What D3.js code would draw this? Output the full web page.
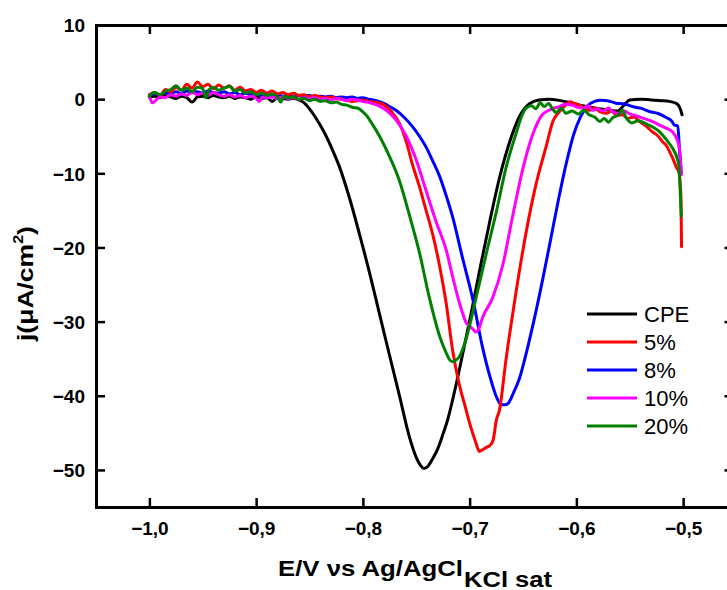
<!DOCTYPE html>
<html><head><meta charset="utf-8">
<script src="https://cdn.jsdelivr.net/npm/d3@7"></script>
<style>body{margin:0;background:#fff}svg{display:block;background:#fff}</style>
</head><body><svg id="chart" width="727" height="590"></svg>
<script>
const xTicks = [-1.0, -0.9, -0.8, -0.7, -0.6, -0.5];
const yTicks = [10, 0, -10, -20, -30, -40, -50];
const seriesNames = ["CPE", "5%", "8%", "10%", "20%"];
const seriesColors = ["#000000", "#ff0000", "#0000ff", "#ff00ff", "#008000"];

const cpe = [[-1.000,0.3],[-0.995,0.4],[-0.990,0.2],[-0.985,0.5],[-0.980,0.3],[-0.975,0.1],[-0.970,0.4],[-0.965,0.2],[-0.960,-0.4],[-0.955,0.3],[-0.950,0.4],[-0.945,0.2],[-0.940,0.5],[-0.935,0.3],[-0.930,0.2],[-0.925,0.4],[-0.920,0.1],[-0.915,0.3],[-0.910,0.2],[-0.905,0.0],[-0.900,0.3],[-0.895,0.1],[-0.890,0.2],[-0.885,-0.3],[-0.880,0.2],[-0.875,0.1],[-0.870,0.0],[-0.865,0.1],[-0.860,-0.1],[-0.855,-0.5],[-0.847,-1.9],[-0.840,-3.5],[-0.834,-5.1],[-0.828,-7.0],[-0.822,-9.1],[-0.8126,-13.3],[-0.8032,-18.2],[-0.7938,-23.4],[-0.7844,-29.0],[-0.7751,-34.5],[-0.7657,-40.0],[-0.7563,-45.6],[-0.750,-48.3],[-0.746,-49.4],[-0.743,-49.8],[-0.739,-49.5],[-0.735,-48.6],[-0.730,-47.2],[-0.725,-45.2],[-0.7205,-43.2],[-0.716,-40.6],[-0.7067,-34.5],[-0.6982,-28.6],[-0.6898,-22.5],[-0.6813,-16.6],[-0.672,-10.6],[-0.6626,-5.8],[-0.6532,-2.3],[-0.6439,-0.6],[-0.635,-0.1],[-0.625,0.0],[-0.615,-0.2],[-0.604,-0.5],[-0.594,-0.9],[-0.583,-1.2],[-0.569,-1.5],[-0.561,-1.6],[-0.556,-0.9],[-0.550,-0.1],[-0.540,0.0],[-0.530,-0.1],[-0.520,-0.2],[-0.513,-0.3],[-0.506,-0.6],[-0.503,-1.2],[-0.501,-2.1]];

const pct5 = [[-1.000,0.6],[-0.995,0.9],[-0.990,0.5],[-0.985,1.3],[-0.980,1.0],[-0.975,1.6],[-0.970,1.2],[-0.965,2.0],[-0.960,1.5],[-0.955,2.3],[-0.950,1.7],[-0.945,2.0],[-0.940,1.4],[-0.935,1.9],[-0.930,1.5],[-0.925,1.8],[-0.920,1.2],[-0.915,1.6],[-0.910,1.1],[-0.905,1.3],[-0.900,0.9],[-0.895,1.2],[-0.890,0.8],[-0.885,1.1],[-0.880,0.7],[-0.875,0.9],[-0.870,0.6],[-0.865,0.8],[-0.860,0.5],[-0.855,0.6],[-0.850,0.3],[-0.845,0.5],[-0.840,0.3],[-0.835,0.2],[-0.830,0.3],[-0.825,0.1],[-0.820,0.0],[-0.815,-0.2],[-0.810,-0.3],[-0.805,-0.2],[-0.800,-0.1],[-0.795,-0.3],[-0.790,-0.4],[-0.784,-0.55],[-0.779,-0.9],[-0.772,-1.9],[-0.766,-3.2],[-0.759,-5.9],[-0.754,-8.6],[-0.747,-11.8],[-0.741,-14.9],[-0.735,-18.0],[-0.728,-22.6],[-0.722,-27.5],[-0.716,-33.8],[-0.710,-38.3],[-0.705,-41.0],[-0.700,-43.7],[-0.694,-46.4],[-0.691,-47.5],[-0.688,-47.3],[-0.685,-47.0],[-0.681,-46.7],[-0.678,-46.0],[-0.675,-43.3],[-0.672,-41.9],[-0.666,-35.2],[-0.660,-29.3],[-0.6565,-26.0],[-0.647,-17.9],[-0.638,-11.6],[-0.628,-6.2],[-0.622,-3.0],[-0.616,-1.7],[-0.610,-0.8],[-0.606,-0.35],[-0.602,-0.6],[-0.597,-0.8],[-0.592,-1.3],[-0.588,-1.5],[-0.583,-1.2],[-0.578,-1.7],[-0.572,-1.9],[-0.567,-1.6],[-0.562,-2.2],[-0.557,-2.1],[-0.552,-2.6],[-0.546,-2.4],[-0.541,-3.0],[-0.535,-3.6],[-0.529,-4.4],[-0.524,-4.9],[-0.519,-5.8],[-0.516,-6.2],[-0.513,-7.0],[-0.510,-7.9],[-0.506,-9.3],[-0.504,-9.8],[-0.503,-10.9],[-0.502,-13.6],[-0.5015,-19.9]];

const pct8 = [[-1.000,0.5],[-0.995,0.7],[-0.990,0.6],[-0.985,0.9],[-0.980,0.8],[-0.975,1.0],[-0.970,0.7],[-0.965,1.1],[-0.960,0.9],[-0.955,1.0],[-0.950,0.8],[-0.945,1.1],[-0.940,0.9],[-0.935,0.8],[-0.930,1.0],[-0.925,0.7],[-0.920,0.9],[-0.915,0.6],[-0.910,0.8],[-0.905,0.6],[-0.900,0.7],[-0.895,0.5],[-0.890,0.6],[-0.885,0.4],[-0.880,0.6],[-0.875,0.4],[-0.870,0.5],[-0.865,0.3],[-0.860,0.5],[-0.855,0.4],[-0.850,0.5],[-0.845,0.3],[-0.840,0.4],[-0.835,0.3],[-0.830,0.4],[-0.825,0.2],[-0.820,0.3],[-0.815,0.2],[-0.810,0.3],[-0.805,0.1],[-0.800,0.2],[-0.795,0.0],[-0.790,-0.1],[-0.785,-0.3],[-0.780,-0.6],[-0.775,-1.0],[-0.769,-1.5],[-0.761,-2.5],[-0.7535,-3.7],[-0.747,-5.0],[-0.741,-6.4],[-0.735,-8.2],[-0.728,-10.45],[-0.722,-13.0],[-0.716,-15.85],[-0.707,-21.2],[-0.697,-27.0],[-0.688,-33.4],[-0.681,-37.4],[-0.675,-40.1],[-0.6705,-41.2],[-0.667,-41.2],[-0.6645,-41.1],[-0.6589,-39.6],[-0.6532,-37.6],[-0.6467,-34.1],[-0.6392,-29.5],[-0.6317,-24.4],[-0.6242,-19.0],[-0.6167,-13.5],[-0.6092,-8.5],[-0.6026,-4.8],[-0.5961,-2.4],[-0.5895,-0.9],[-0.5829,-0.3],[-0.577,-0.15],[-0.571,-0.2],[-0.563,-0.55],[-0.555,-0.65],[-0.5475,-1.0],[-0.539,-1.25],[-0.531,-1.7],[-0.524,-1.9],[-0.5155,-2.5],[-0.511,-2.9],[-0.508,-3.5],[-0.505,-3.6],[-0.5033,-7.1],[-0.5017,-10.0]];

const pct10 = [[-1.000,0.4],[-0.997,-0.5],[-0.993,0.0],[-0.990,0.3],[-0.985,0.2],[-0.980,0.6],[-0.975,0.4],[-0.970,0.7],[-0.965,0.5],[-0.960,0.9],[-0.955,0.6],[-0.950,0.8],[-0.945,0.5],[-0.940,0.9],[-0.935,0.6],[-0.930,0.4],[-0.925,0.6],[-0.920,0.3],[-0.915,0.5],[-0.910,0.2],[-0.905,0.4],[-0.900,0.1],[-0.897,-0.3],[-0.894,0.3],[-0.890,0.2],[-0.885,0.3],[-0.880,0.1],[-0.875,0.3],[-0.870,0.1],[-0.865,0.2],[-0.860,0.0],[-0.855,0.2],[-0.850,0.1],[-0.845,0.2],[-0.840,0.0],[-0.835,0.1],[-0.830,-0.1],[-0.825,0.1],[-0.820,0.0],[-0.815,-0.2],[-0.810,0.0],[-0.806,-0.1],[-0.800,-0.3],[-0.796,-0.4],[-0.791,-0.6],[-0.785,-0.9],[-0.778,-1.5],[-0.769,-2.8],[-0.759,-5.1],[-0.750,-8.2],[-0.741,-12.25],[-0.731,-16.7],[-0.722,-20.3],[-0.716,-23.9],[-0.7095,-27.5],[-0.703,-30.2],[-0.700,-30.6],[-0.697,-31.0],[-0.694,-31.4],[-0.691,-30.8],[-0.688,-29.5],[-0.6785,-26.8],[-0.669,-22.4],[-0.660,-16.0],[-0.650,-9.3],[-0.641,-4.8],[-0.632,-2.1],[-0.625,-1.46],[-0.616,-1.0],[-0.610,-0.7],[-0.604,-0.8],[-0.599,-1.1],[-0.594,-1.2],[-0.589,-0.9],[-0.585,-1.5],[-0.580,-1.3],[-0.575,-1.6],[-0.570,-1.2],[-0.566,-1.7],[-0.560,-1.9],[-0.555,-1.6],[-0.550,-2.0],[-0.545,-2.2],[-0.541,-2.4],[-0.535,-2.7],[-0.529,-3.0],[-0.522,-3.5],[-0.516,-3.9],[-0.510,-4.4],[-0.505,-5.7],[-0.503,-7.2],[-0.5017,-10.2]];

const pct20 = [[-1.000,0.4],[-0.995,0.9],[-0.990,0.6],[-0.985,1.1],[-0.980,1.3],[-0.975,1.8],[-0.970,1.2],[-0.965,1.5],[-0.960,1.0],[-0.955,1.6],[-0.950,1.4],[-0.947,0.2],[-0.944,1.3],[-0.940,1.6],[-0.935,1.2],[-0.930,1.5],[-0.925,1.7],[-0.920,1.1],[-0.915,1.3],[-0.910,0.8],[-0.905,1.0],[-0.900,0.6],[-0.895,0.8],[-0.890,0.5],[-0.885,0.7],[-0.880,0.3],[-0.877,-0.4],[-0.874,0.4],[-0.870,0.2],[-0.865,0.3],[-0.860,0.0],[-0.855,0.1],[-0.850,-0.2],[-0.845,0.0],[-0.840,-0.3],[-0.835,-0.2],[-0.830,-0.5],[-0.825,-0.4],[-0.820,-0.7],[-0.815,-0.8],[-0.810,-1.1],[-0.805,-1.2],[-0.800,-1.7],[-0.796,-2.3],[-0.791,-3.4],[-0.784,-5.1],[-0.775,-7.75],[-0.766,-10.9],[-0.756,-15.85],[-0.747,-20.7],[-0.738,-26.6],[-0.728,-32.0],[-0.722,-34.2],[-0.719,-35.1],[-0.716,-35.4],[-0.713,-35.2],[-0.7095,-34.7],[-0.703,-32.2],[-0.694,-26.8],[-0.684,-20.6],[-0.675,-15.2],[-0.666,-9.3],[-0.656,-4.4],[-0.651,-2.2],[-0.647,-1.2],[-0.642,-0.9],[-0.638,-1.3],[-0.634,-0.5],[-0.630,-1.0],[-0.626,-0.6],[-0.622,-1.4],[-0.619,-1.8],[-0.614,-1.2],[-0.610,-1.9],[-0.604,-1.6],[-0.598,-2.0],[-0.593,-1.5],[-0.588,-2.1],[-0.583,-2.4],[-0.578,-3.0],[-0.574,-2.6],[-0.570,-3.1],[-0.566,-2.5],[-0.561,-2.2],[-0.557,-1.5],[-0.553,-2.6],[-0.548,-3.2],[-0.542,-2.9],[-0.535,-3.3],[-0.528,-3.8],[-0.522,-4.4],[-0.516,-5.4],[-0.510,-6.6],[-0.506,-7.8],[-0.504,-9.0],[-0.503,-11.6],[-0.5017,-15.8]];

const seriesData = [cpe, pct5, pct8, pct10, pct20];
const drawOrder = [0, 2, 1, 3, 4];

const svg = d3.select("#chart");
const x = d3.scaleLinear().domain([-1.05, -0.45]).range([96, 736.5]);
const y = d3.scaleLinear().domain([-55, 10]).range([507, 25]);
const loc = d3.formatLocale({decimal: ",", thousands: ".", grouping: [3], currency: ["", ""], minus: "\u2212"});
const FONT = "'Liberation Sans', Arial, Helvetica, sans-serif";

// curves
const line = d3.line().x(d => x(d[0])).y(d => y(d[1])).curve(d3.curveMonotoneX);
const plot = svg.append("g");
drawOrder.forEach(i => {
  plot.append("path").datum(seriesData[i])
    .attr("d", line).attr("fill", "none")
    .attr("stroke", seriesColors[i]).attr("stroke-width", 3)
    .attr("stroke-linejoin", "round").attr("stroke-linecap", "round");
});

function styleAxis(g) {
  g.select(".domain").attr("stroke", "#000").attr("stroke-width", 3).attr("stroke-linecap", "square");
  g.selectAll(".tick line").attr("stroke", "#000").attr("stroke-width", 2.5);
  g.selectAll(".tick text").attr("font-family", FONT).attr("font-weight", "bold").attr("font-size", 19).attr("fill", "#000");
}

const gx = svg.append("g").attr("transform", "translate(0,507)")
  .call(d3.axisBottom(x).tickValues(xTicks).tickSize(-9).tickSizeOuter(0).tickFormat(loc.format(".1f")));
styleAxis(gx);
gx.selectAll(".tick text").attr("y", 28).attr("dy", 0);

const gxt = svg.append("g").attr("transform", "translate(0,25)")
  .call(d3.axisTop(x).tickValues(xTicks).tickSize(-9).tickSizeOuter(0).tickFormat(""));
styleAxis(gxt);

const gy = svg.append("g").attr("transform", "translate(96,0)")
  .call(d3.axisLeft(y).tickValues(yTicks).tickSize(-9).tickSizeOuter(0).tickFormat(loc.format("d")));
styleAxis(gy);
gy.selectAll(".tick text").attr("x", -11).attr("dy", "0.36em");

const gyr = svg.append("g").attr("transform", "translate(736.5,0)")
  .call(d3.axisRight(y).tickValues(yTicks).tickSize(-12).tickSizeOuter(0).tickFormat(""));
styleAxis(gyr);

// x title
svg.append("text").attr("x", 278).attr("y", 576)
  .attr("font-family", FONT).attr("font-weight", "bold").attr("font-size", 22)
  .attr("textLength", 185).attr("lengthAdjust", "spacingAndGlyphs")
  .text("E/V \u03BDs Ag/AgCl");
svg.append("text").attr("x", 464).attr("y", 586.5)
  .attr("font-family", FONT).attr("font-weight", "bold").attr("font-size", 22)
  .attr("textLength", 88).attr("lengthAdjust", "spacingAndGlyphs")
  .text("KCl sat");

// y title
const yt = svg.append("text").attr("font-family", FONT).attr("font-weight", "bold").attr("font-size", 23);
yt.append("tspan").text("j(\u03BCA/cm");
yt.append("tspan").attr("font-size", 14).attr("dy", -10).text("2");
yt.append("tspan").attr("dy", 10).text(")");
const ylen = yt.node().getComputedTextLength();
yt.attr("transform", `translate(33,341) rotate(-90) scale(${115 / ylen},1)`);

// legend
const lg = svg.append("g");
seriesNames.forEach((n, i) => {
  const yy = 314 + 28 * i;
  lg.append("line").attr("x1", 587).attr("x2", 637).attr("y1", yy).attr("y2", yy)
    .attr("stroke", seriesColors[i]).attr("stroke-width", 3);
  lg.append("text").attr("x", 644).attr("y", yy + 8)
    .attr("font-family", FONT).attr("font-size", 22).attr("fill", "#000").text(n);
});
</script></body></html>
